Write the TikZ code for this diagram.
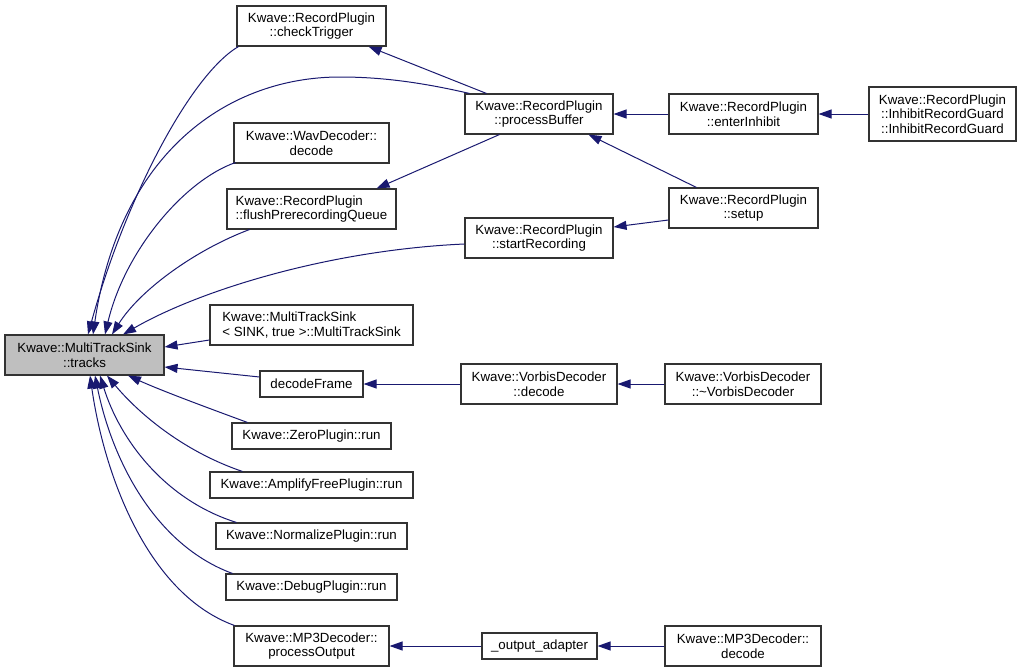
\documentclass[tikz,border=0pt]{standalone}
\usepackage{fontspec}
\setmainfont{Liberation Sans}
\usetikzlibrary{arrows.meta}
\definecolor{edgec}{RGB}{25,25,112}
\definecolor{nodegray}{RGB}{191,191,191}
\begin{document}
\begin{tikzpicture}[x=1pt,y=-1pt,
  fn/.style={draw=black!80, line width=1.1pt, inner sep=0pt, align=center,
    font=\fontsize{13.3}{14.5}\selectfont, text=black},
  fnl/.style={fn, align=left},
  ed/.style={draw=edgec, line width=1pt, -{Triangle[length=13pt,width=9pt]}},
]
\useasboundingbox (0,0) rectangle (1023,672);

% nodes
\node[fn, minimum width=159pt, minimum height=40pt, fill=nodegray] (tracks) at (84.5,355) {Kwave::MultiTrackSink\\::tracks};
\node[fn, minimum width=149pt, minimum height=40pt] (check) at (311.5,26) {Kwave::RecordPlugin\\::checkTrigger};
\node[fn, minimum width=148pt, minimum height=40pt] (pb) at (539,114) {Kwave::RecordPlugin\\::processBuffer};
\node[fn, minimum width=149pt, minimum height=40pt] (ei) at (743.5,114) {Kwave::RecordPlugin\\::enterInhibit};
\node[fn, minimum width=147pt, minimum height=54pt] (guard) at (942.5,114) {Kwave::RecordPlugin\\::InhibitRecordGuard\\ ::InhibitRecordGuard};
\node[fn, minimum width=155pt, minimum height=40pt] (wav) at (311.5,143) {Kwave::WavDecoder::\\decode};
\node[fnl, minimum width=169pt, minimum height=40pt] (flush) at (311.5,209) {Kwave::RecordPlugin\\::flushPrerecordingQueue};
\node[fn, minimum width=149pt, minimum height=40pt] (setup) at (743.5,208) {Kwave::RecordPlugin\\::setup};
\node[fn, minimum width=148pt, minimum height=40pt] (sr) at (539,238) {Kwave::RecordPlugin\\::startRecording};
\node[fnl, minimum width=203pt, minimum height=40pt] (mts) at (311.5,325) {Kwave::MultiTrackSink\\< SINK, true >::MultiTrackSink};
\node[fn, minimum width=103pt, minimum height=26pt] (df) at (311.5,384) {decodeFrame};
\node[fn, minimum width=156pt, minimum height=40pt] (vorbis) at (539,384) {Kwave::VorbisDecoder\\::decode};
\node[fn, minimum width=156pt, minimum height=40pt] (nvorbis) at (743,384) {Kwave::VorbisDecoder\\::\textasciitilde VorbisDecoder};
\node[fn, minimum width=159pt, minimum height=26pt] (zero) at (311.5,436) {Kwave::ZeroPlugin::run};
\node[fn, minimum width=203pt, minimum height=26pt] (amp) at (311.5,485) {Kwave::AmplifyFreePlugin::run};
\node[fn, minimum width=191pt, minimum height=26pt] (norm) at (311.5,536) {Kwave::NormalizePlugin::run};
\node[fn, minimum width=171pt, minimum height=26pt] (debug) at (311.5,587) {Kwave::DebugPlugin::run};
\node[fn, minimum width=155pt, minimum height=40pt] (po) at (311.5,646) {Kwave::MP3Decoder::\\processOutput};
\node[fn, minimum width=115pt, minimum height=26pt] (adapter) at (539.5,646) {\_output\_adapter};
\node[fn, minimum width=156pt, minimum height=40pt] (mp3) at (743,646) {Kwave::MP3Decoder::\\decode};

% edges into tracks (top)
\draw[ed] ([xshift=2pt]check.south west) .. controls (190,75) and (125,200) .. ([xshift=3.5pt]tracks.north);
\draw[ed] ([xshift=5pt]pb.north west) .. controls (420,82) and (380,77) .. (340,77)
   .. controls (230,77) and (120,150) .. ([xshift=8.5pt]tracks.north);
\draw[ed] ([xshift=2pt,yshift=1pt]wav.south west) .. controls (185,180) and (125,250) .. ([xshift=20.5pt]tracks.north);
\draw[ed] ([xshift=23pt]flush.south west) .. controls (195,250) and (140,290) .. ([xshift=27.5pt]tracks.north);
\draw[ed] ([yshift=-6pt]sr.west) .. controls (330,250) and (200,290) .. ([xshift=38.5pt]tracks.north);
% side
\draw[ed] ([yshift=-15pt]mts.west) -- ([yshift=8pt]tracks.east);
\draw[ed] ([yshift=7pt]df.west) -- ([yshift=-12pt]tracks.east);
% bottom
\draw[ed] ([xshift=16pt]zero.north west) .. controls (200,405) and (160,390) .. ([xshift=43.5pt]tracks.south);
\draw[ed] ([xshift=33pt]amp.north west) .. controls (185,452) and (140,415) .. ([xshift=22.5pt]tracks.south);
\draw[ed] ([xshift=21pt]norm.north west) .. controls (165,500) and (120,440) .. ([xshift=15.5pt]tracks.south);
\draw[ed] ([xshift=7pt]debug.north west) .. controls (155,545) and (112,460) .. ([xshift=10.5pt]tracks.south);
\draw[ed] ([xshift=1pt]po.north west) .. controls (150,595) and (105,480) .. ([xshift=5.5pt]tracks.south);

% others
\draw[ed] ([xshift=22pt]pb.north west) -- ([xshift=-18pt]check.south east);
\draw[ed] ([xshift=35pt]pb.south west) -- ([xshift=-20pt]flush.north east);
\draw[ed] (ei.west) -- (pb.east);
\draw[ed] ([xshift=28pt]setup.north west) -- ([xshift=-25pt]pb.south east);
\draw[ed] ([yshift=-12pt]setup.west) -- ([yshift=11pt]sr.east);
\draw[ed] (guard.west) -- (ei.east);
\draw[ed] (vorbis.west) -- (df.east);
\draw[ed] (nvorbis.west) -- (vorbis.east);
\draw[ed] (adapter.west) -- (po.east);
\draw[ed] (mp3.west) -- (adapter.east);
\end{tikzpicture}
\end{document}
